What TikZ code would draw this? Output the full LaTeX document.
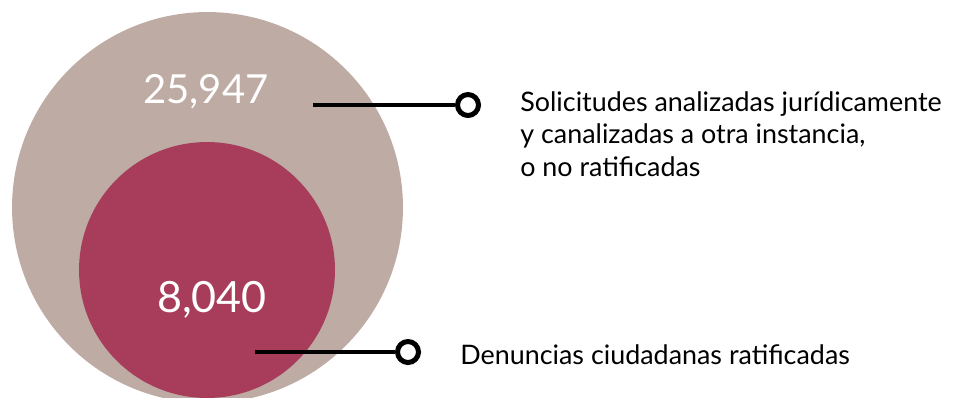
\documentclass[tikz,border=0pt]{standalone}
\usepackage{fontspec}
\setmainfont{Lato}
\usetikzlibrary{positioning}
\definecolor{tanfill}{RGB}{189,171,164}
\definecolor{wine}{RGB}{168,61,91}
\tikzset{bubble/.style={
          circle,
          inner sep=0pt
     }}
\tikzset{endmark/.style={
          draw=black,
          circle,
          fill=white,
          line width=0.1cm,
          minimum size=0.42cm,
          inner sep=0pt
     }}
\tikzset{count/.style={
          text=white,
          inner sep=0pt,
          font=\fontsize{22.8}{26}\selectfont
     }}
\tikzset{caption/.style={
          align=left,
          inner sep=0pt,
          font=\fontsize{15.3}{18.6}\selectfont
     }}
\tikzstyle{leader} = [line width=0.07cm]

\begin{document}
\begin{tikzpicture}[x=0.02cm, y=-0.02cm]
\useasboundingbox (0,0) rectangle (956,397);
\node (allreq) [bubble, fill=tanfill, minimum size=7.82cm] at (207.5,207.5) {};
\node (ratified) [bubble, fill=wine, minimum size=5.12cm] at (207,270) {};
\node (allnum) [count, anchor=base] at (206,103) {25,947};
\node (ratnum) [count, anchor=base, font=\fontsize{24.5}{28}\selectfont] at (212,312) {8,040};
\coordinate (allend) at (313,105);
\coordinate (ratend) at (255,352);
\node (allmark) [endmark] at (468,105) {};
\node (ratmark) [endmark] at (408,352) {};
\node (alltext) [caption, anchor=north west] at (520,91) {Solicitudes analizadas jurídicamente\\ y canalizadas a otra instancia,\\ o no ratificadas};
\node (rattext) [caption, anchor=base west] at (460,364) {Denuncias ciudadanas ratificadas};

\draw [leader] (allend) -- (allmark);
\draw [leader] (ratend) -- (ratmark);
\end{tikzpicture}
\end{document}
